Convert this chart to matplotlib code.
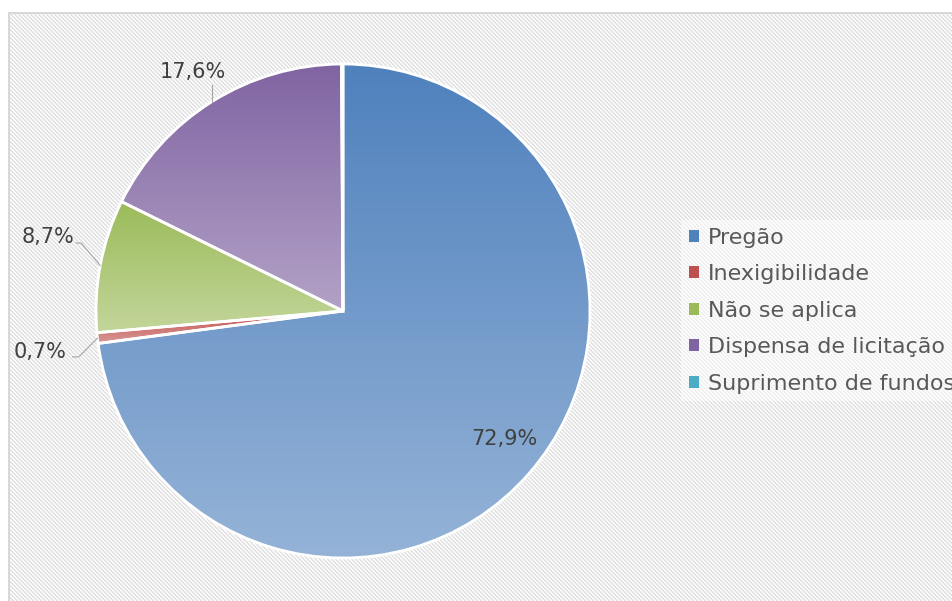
import numpy as np
import matplotlib
matplotlib.use("Agg")
import matplotlib.pyplot as plt
from matplotlib.patches import Rectangle, Patch
from matplotlib.colors import to_rgb

# ---- data ----
categories = ["Pregão", "Inexigibilidade", "Não se aplica", "Dispensa de licitação", "Suprimento de fundos"]
values = [72.9, 0.7, 8.7, 17.6, 0.1]
labels = ["72,9%", "0,7%", "8,7%", "17,6%", ""]
top_colors = ["#4f81bd", "#c0504d", "#9bbb59", "#8064a2", "#4bacc6"]
bottom_colors = ["#95b3d7", "#d99694", "#c3d69b", "#b3a2c7", "#92cddc"]

W, H = 953, 601
fig = plt.figure(figsize=(W / 100, H / 100), dpi=100)
fig.patch.set_facecolor("white")

# hatched background area (pixel pattern)
fx0, fy0 = 8, 12
bw, bh = W - fx0, H - fy0
bax = fig.add_axes([fx0 / W, 0, bw / W, bh / H], zorder=-10)
bax.set_axis_off()
rows, cols = np.mgrid[0:bh, 0:bw]
pat = ((cols - rows) % 4) < 2
bgimg = np.where(pat[..., None], np.array([0.89, 0.89, 0.89]), np.array([0.985, 0.985, 0.985]))
bax.imshow(bgimg, interpolation="nearest", aspect="auto", extent=[0, bw, 0, bh])
bax.set_xlim(0, bw)
bax.set_ylim(0, bh)
bax.add_patch(Rectangle((0.5, -2), bw + 5, bh - 0.5 + 2, facecolor="none",
                        edgecolor="#d4d4d4", linewidth=1.2, clip_on=False))

# pie axes: center (343,311) px, radius 247 px
cx, cy, r = 343, 311, 247
ax = fig.add_axes([(cx - r) / W, (H - cy - r) / H, 2 * r / W, 2 * r / H], zorder=1)
ax.patch.set_alpha(0)
ax.set_axis_off()

wedges, _ = ax.pie(values, startangle=90, counterclock=False, radius=1,
                   wedgeprops=dict(edgecolor="white", linewidth=2))

for w, ct, cb in zip(wedges, top_colors, bottom_colors):
    ext = w.get_path().get_extents()
    t = np.array(to_rgb(ct))
    b = np.array(to_rgb(cb))
    n = 256
    f = np.linspace(0, 1, n)[:, None]
    grad = t[None, :] * (1 - f) + b[None, :] * f
    img = np.repeat(grad[:, None, :], 2, axis=1)
    im = ax.imshow(img, extent=[ext.x0, ext.x1, ext.y0, ext.y1], origin="upper",
                   aspect="auto", zorder=1, interpolation="bilinear")
    im.set_clip_path(w)
    w.set_facecolor("none")
    w.set_zorder(2)

ax.set_xlim(-1, 1)
ax.set_ylim(-1, 1)

# labels
txt_color = "#404040"
fs = 15
angles = []
start = 90.0
for v in values:
    span = v / sum(values) * 360
    angles.append(start - span / 2)
    start -= span

a = np.deg2rad(angles[0])
ax.text(0.83 * np.cos(a) + 0.03, 0.83 * np.sin(a) + 0.03, labels[0], ha="center", va="center",
        fontsize=fs, color=txt_color, zorder=5)

lc = "#a6a6a6"
a = np.deg2rad(angles[3])
px, py = np.cos(a), np.sin(a)
ax.text(-0.607, 0.968, labels[3], ha="center", va="center", fontsize=fs, color=txt_color, zorder=5)
ax.plot([px, px], [py, 0.915], color=lc, lw=0.8, zorder=4, clip_on=False)

a = np.deg2rad(angles[2])
px, py = np.cos(a), np.sin(a)
ax.text(-1.194, 0.30, labels[2], ha="center", va="center", fontsize=fs, color=txt_color, zorder=5)
ax.plot([-1.08, -1.06, px], [0.275, 0.275, py], color=lc, lw=0.8, zorder=4, clip_on=False)

a = np.deg2rad(angles[1])
px, py = np.cos(a), np.sin(a)
ax.text(-1.227, -0.166, labels[1], ha="center", va="center", fontsize=fs, color=txt_color, zorder=5)
ax.plot([-1.095, -1.07, px], [-0.186, -0.186, py], color=lc, lw=0.8, zorder=4, clip_on=False)

# legend
handles = [Patch(facecolor=c, edgecolor="none") for c in top_colors]
leg = fig.legend(handles, categories, loc="upper left",
                 bbox_to_anchor=(681 / W, 1 - 220 / H), fontsize=16,
                 frameon=True, fancybox=False, framealpha=0.5, edgecolor="none",
                 handlelength=0.45, handleheight=0.45, handletextpad=0.4,
                 labelspacing=0.74, borderpad=0.35, borderaxespad=0)
leg.get_frame().set_facecolor("white")
leg.set_zorder(5)
for t in leg.get_texts():
    t.set_color("#595959")

fig.savefig("out.png", dpi=100)
